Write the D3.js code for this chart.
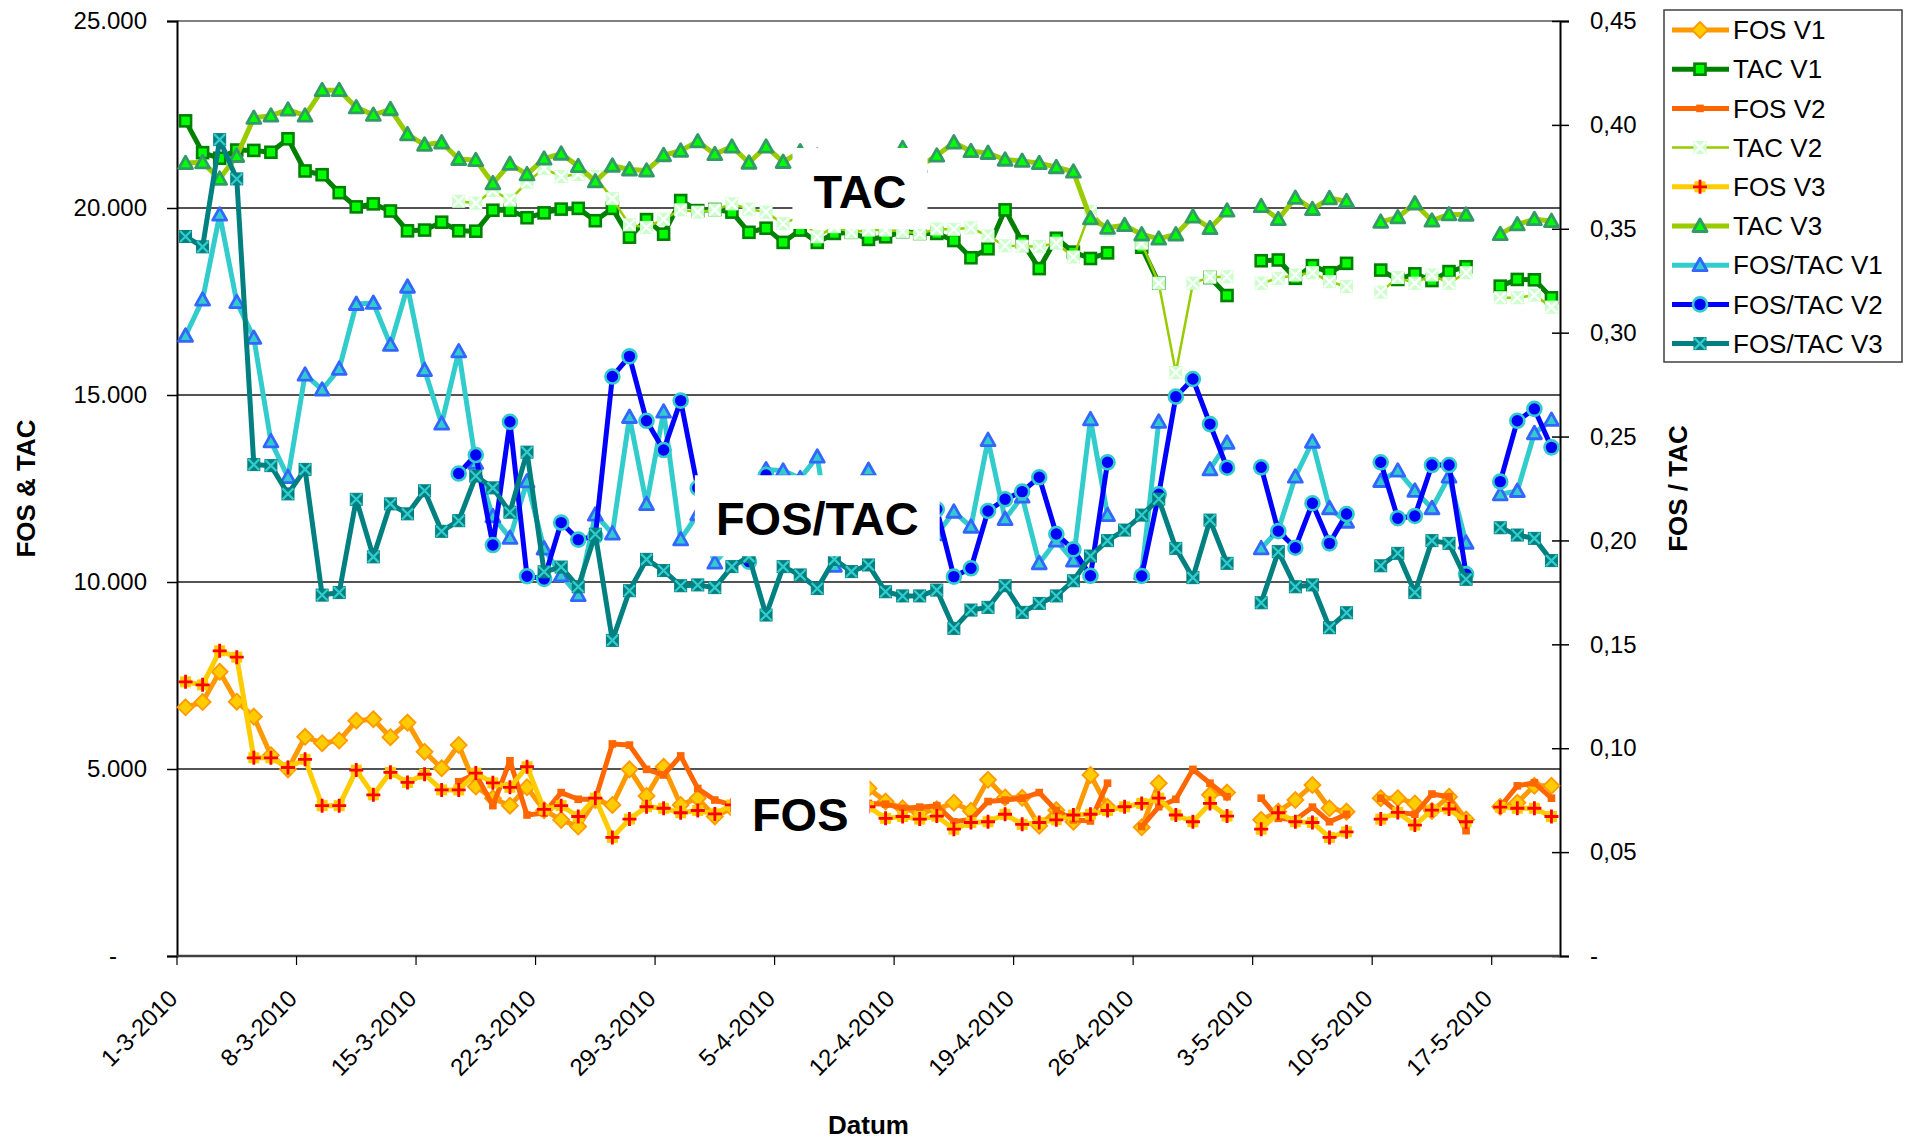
<!DOCTYPE html>
<html>
<head>
<meta charset="utf-8">
<script src="https://cdn.jsdelivr.net/npm/d3@7"></script>
<style>
  body { margin: 0; background: #fff; }
  text { font-family: "Liberation Sans", Arial, sans-serif; }
</style>
</head>
<body>
<svg id="chart" width="1910" height="1140"></svg>
<script>
// one category per day, 1-3-2010 .. 20-5-2010
const dates = d3.timeDay.range(new Date(2010, 2, 1), new Date(2010, 4, 21));

const fosV1 = [
  6650, 6790, 7600, 6800, 6400, 5370, 4990, 5860, 5690, 5760,
  6290, 6330, 5850, 6240, 5460, 5020, 5640, 4530, 4220, 4020,
  4510, 3900, 3640, 3460, 4170, 4040, 4990, 4280, 5060, 4040,
  4220, 3730, 3950, 4100, 4560, 4460, 4460, 4590, 3630, 4150,
  4480, 4130, 3950, 3830, 3920, 4100, 3880, 4710, 4240, 4230,
  3480, 3900, 3590, 4840, 3990, null, 3440, 4620, null, null,
  4310, 4370, null, 3640, 3860, 4170, 4570, 3950, 3860, null,
  4220, 4220, 4080, 3880, 4260, 3650, null, 3990, 4100, 4550, 4550
];
const tacV1 = [
  22330, 21480, 21330, 21550, 21540, 21490, 21850, 20990, 20890, 20410,
  20030, 20110, 19920, 19390, 19410, 19620, 19390, 19380, 19940, 19940,
  19740, 19870, 19970, 19990, 19660, 19990, 19220, 19690, 19300, 20200,
  19930, 19960, 19890, 19350, 19460, 19080, 19410, 19080, 19320, 19350,
  19160, 19230, 19370, 19320, 19320, 19130, 18670, 18910, 19950, 19100,
  18380, 19190, 18820, 18650, 18800, null, 18950, 17990, null, null,
  18140, 17660, null, 18590, 18610, 18120, 18460, 18270, 18520, null,
  18340, 18090, 18240, 18060, 18300, 18430, null, 17910, 18090, 18080, 17600
];
const fosV2 = [
  null, null, null, null, null, null, null, null, null, null,
  null, null, null, null, null, null, 4660, 4870, 4020, 5220,
  3770, 3820, 4370, 4190, 4190, 5670, 5640, 4990, 4840, 5350,
  4480, 4170, 4040, 3790, 4600, 4300, 4150, 4000, 4100, 4050,
  4080, 4060, 3950, 3980, 4020, 3590, 3650, 4130, 4170, 4220,
  4370, 3890, 3640, 3610, 4620, null, 3460, 3990, 4190, 4990,
  4620, 4260, null, 4220, 3680, 3640, 3980, 3590, 3790, null,
  4220, 3840, 3790, 4330, 4260, 3350, null, 3990, 4550, 4630, 4220
];
const tacV2 = [
  null, null, null, null, null, null, null, null, null, null,
  null, null, null, null, null, null, 20180, 20130, 20470, 20210,
  20690, 21060, 20840, 20900, 20840, 20250, 19550, 19480, 19700, 19950,
  19890, 19950, 20110, 19970, 19890, 19580, 19770, 19230, 19500, 19350,
  19410, 19410, 19370, 19320, 19440, 19430, 19470, 19250, 18990, 18980,
  18970, 19060, 18690, 19910, 19410, null, 19060, 17990, 15600, 17990,
  18150, 18160, null, 17990, 18120, 18210, 18270, 18030, 17900, null,
  17750, 18140, 17990, 18210, 17990, 18270, null, 17600, 17600, 17670, 17350
];
const fosV3 = [
  7330, 7250, 8160, 7990, 5300, 5300, 5040, 5260, 4020, 4020,
  4970, 4310, 4910, 4640, 4860, 4440, 4440, 4890, 4630, 4510,
  5060, 3920, 4020, 3730, 4220, 3170, 3660, 3990, 3950, 3830,
  3890, 3800, 4040, 4080, 3550, 3980, 3950, 3790, 4120, 3940,
  3990, 3680, 3730, 3660, 3740, 3390, 3570, 3590, 3790, 3520,
  3570, 3640, 3770, 3790, 3890, 3990, 4080, 4220, 3770, 3590,
  4080, 3740, null, 3390, 3830, 3590, 3570, 3170, 3320, null,
  3660, 3840, 3500, 3900, 3930, 3590, null, 3980, 3950, 3950, 3730
];
const tacV3 = [
  21200, 21220, 20780, 21390, 22410, 22470, 22630, 22470, 23150, 23150,
  22690, 22490, 22640, 21970, 21690, 21750, 21310, 21280, 20660, 21180,
  20900, 21320, 21450, 21120, 20710, 21130, 21030, 21000, 21410, 21530,
  21780, 21440, 21640, 21210, 21640, 21230, 21510, 21400, 21300, 21300,
  21200, 20990, 21600, 21120, 21400, 21750, 21520, 21470, 21290, 21260,
  21200, 21090, 20970, 19720, 19470, 19540, 19290, 19180, 19290, 19770,
  19460, 19930, null, 20050, 19700, 20270, 19970, 20260, 20180, null,
  19630, 19750, 20120, 19660, 19830, 19820, null, 19300, 19560, 19700, 19650
];
const fosTacV1 = [
  0.2985, 0.3159, 0.3568, 0.3147, 0.2975, 0.2477, 0.2305, 0.2798, 0.2726, 0.2826,
  0.3138, 0.3143, 0.2941, 0.3221, 0.2820, 0.2562, 0.2910, 0.2373, 0.2116, 0.2012,
  0.2284, 0.1961, 0.1832, 0.1737, 0.2124, 0.2033, 0.2594, 0.2175, 0.2620, 0.2005,
  0.2126, 0.1893, 0.1986, 0.2119, 0.2342, 0.2336, 0.2299, 0.2403, 0.1878, 0.2145,
  0.2339, 0.2148, 0.2039, 0.1982, 0.2029, 0.2138, 0.2066, 0.2483, 0.2103, 0.2211,
  0.1890, 0.1999, 0.1903, 0.2583, 0.2122, null, 0.1842, 0.2571, null, null,
  0.2342, 0.2470, null, 0.1962, 0.2050, 0.2307, 0.2475, 0.2155, 0.2090, null,
  0.2286, 0.2336, 0.2239, 0.2155, 0.2307, 0.1989, null, 0.2222, 0.2238, 0.2516, 0.2580
];
const fosTacV2 = [
  null, null, null, null, null, null, null, null, null, null,
  null, null, null, null, null, null, 0.2322, 0.2411, 0.1978, 0.2571,
  0.1828, 0.1815, 0.2086, 0.2004, 0.2021, 0.2789, 0.2886, 0.2576, 0.2435, 0.2673,
  0.2252, 0.2090, 0.2009, 0.1898, 0.2315, 0.2196, 0.2099, 0.2080, 0.2103, 0.2093,
  0.2102, 0.2092, 0.2039, 0.2060, 0.2150, 0.1826, 0.1866, 0.2142, 0.2198, 0.2235,
  0.2304, 0.2031, 0.1957, 0.1830, 0.2376, null, 0.1829, 0.2222, 0.2692, 0.2777,
  0.2560, 0.2350, null, 0.2352, 0.2045, 0.1965, 0.2179, 0.1986, 0.2127, null,
  0.2376, 0.2107, 0.2118, 0.2363, 0.2363, 0.1838, null, 0.2283, 0.2576, 0.2633, 0.2448
];
const fosTacV3 = [
  0.3463, 0.3413, 0.3929, 0.3740, 0.2365, 0.2360, 0.2224, 0.2342, 0.1737, 0.1749,
  0.2198, 0.1921, 0.2176, 0.2128, 0.2239, 0.2044, 0.2095, 0.2310, 0.2253, 0.2136,
  0.2425, 0.1849, 0.1872, 0.1777, 0.2030, 0.1519, 0.1758, 0.1909, 0.1855, 0.1782,
  0.1786, 0.1773, 0.1874, 0.1922, 0.1641, 0.1874, 0.1834, 0.1769, 0.1909, 0.1850,
  0.1882, 0.1753, 0.1733, 0.1733, 0.1761, 0.1577, 0.1665, 0.1678, 0.1782, 0.1654,
  0.1697, 0.1733, 0.1806, 0.1925, 0.1999, 0.2050, 0.2122, 0.2199, 0.1962, 0.1821,
  0.2098, 0.1890, null, 0.1700, 0.1946, 0.1777, 0.1786, 0.1580, 0.1652, null,
  0.1878, 0.1938, 0.1749, 0.1999, 0.1986, 0.1813, null, 0.2061, 0.2026, 0.2010, 0.1903
];

const leftTicks = [0, 5000, 10000, 15000, 20000, 25000];
const rightTicks = [0, 0.05, 0.10, 0.15, 0.20, 0.25, 0.30, 0.35, 0.40, 0.45];
const gridValues = [5000, 10000, 15000, 20000];

const series = [
  { name: 'FOS V1', values: fosV1, axis: 'L', color: '#FF9900', width: 5, marker: 'diamond', fill: '#FFCC00', mstroke: '#FF9900' },
  { name: 'TAC V1', values: tacV1, axis: 'L', color: '#008000', width: 5, marker: 'square', fill: '#00FF00', mstroke: '#008000' },
  { name: 'FOS V2', values: fosV2, axis: 'L', color: '#FF6600', width: 5, marker: 'dot', fill: '#FF6600', mstroke: '#FF6600' },
  { name: 'TAC V2', values: tacV2, axis: 'L', color: '#99CC00', width: 2.5, marker: 'xsquare', fill: '#CCFFCC', mstroke: '#FFFFFF' },
  { name: 'FOS V3', values: fosV3, axis: 'L', color: '#FFCC00', width: 5, marker: 'plus', fill: '#FFCC00', mstroke: '#FF0000' },
  { name: 'TAC V3', values: tacV3, axis: 'L', color: '#99CC00', width: 5, marker: 'triangle', fill: '#00FF00', mstroke: '#339966' },
  { name: 'FOS/TAC V1', values: fosTacV1, axis: 'R', color: '#33CCCC', width: 5, marker: 'triangle', fill: '#33CCCC', mstroke: '#3366FF' },
  { name: 'FOS/TAC V2', values: fosTacV2, axis: 'R', color: '#0000FF', width: 5, marker: 'circle', fill: '#0000FF', mstroke: '#33CCCC' },
  { name: 'FOS/TAC V3', values: fosTacV3, axis: 'R', color: '#008080', width: 5, marker: 'xsquare', fill: '#008080', mstroke: '#33CCCC' }
];

const plotLeft = 177, plotRight = 1560, plotTop = 21, plotBottom = 956;

const svg = d3.select('#chart');

const x = d3.scaleBand()
  .domain(d3.range(dates.length))
  .range([plotLeft, plotRight])
  .padding(0);
const xc = i => x(i) + x.bandwidth() / 2;

const yL = d3.scaleLinear().domain([0, 25000]).range([plotBottom, plotTop]);
const yR = d3.scaleLinear().domain([0, 0.45]).range([plotBottom, plotTop]);

// gridlines
svg.append('g')
  .selectAll('line')
  .data(gridValues)
  .join('line')
  .attr('x1', plotLeft).attr('x2', plotRight)
  .attr('y1', d => yL(d)).attr('y2', d => yL(d))
  .attr('stroke', '#1a1a1a')
  .attr('stroke-width', 1.3);

// plot frame
svg.append('line').attr('x1', plotLeft).attr('x2', plotRight).attr('y1', plotTop).attr('y2', plotTop)
  .attr('stroke', '#808080').attr('stroke-width', 2);

// left axis
const leftAxis = svg.append('g')
  .attr('transform', `translate(${plotLeft},0)`)
  .call(d3.axisLeft(yL).tickValues(leftTicks).tickSize(10).tickPadding(20)
    .tickFormat(d => d === 0 ? '-' : d3.format(',')(d).replace(/,/g, '.')));
leftAxis.select('.domain').attr('stroke', '#000').attr('stroke-width', 2);
leftAxis.selectAll('.tick line').attr('stroke', '#000').attr('stroke-width', 1.5);
leftAxis.selectAll('.tick text')
  .attr('font-size', 24).attr('fill', '#000')
  .attr('font-family', '"Liberation Sans", Arial, sans-serif')
  .attr('dx', d => d === 0 ? -30 : 0);

// right axis (ticks cross the axis line)
const rightAxis = svg.append('g')
  .attr('transform', `translate(${plotRight},0)`)
  .call(d3.axisRight(yR).tickValues(rightTicks).tickSize(9).tickPadding(21)
    .tickFormat(d => d === 0 ? '-' : d3.format('.2f')(d).replace('.', ',')));
rightAxis.select('.domain').attr('stroke', '#000').attr('stroke-width', 2);
rightAxis.selectAll('.tick line').attr('x1', -8).attr('stroke', '#000').attr('stroke-width', 1.5);
rightAxis.selectAll('.tick text')
  .attr('font-size', 24).attr('fill', '#000')
  .attr('font-family', '"Liberation Sans", Arial, sans-serif');

// x axis
const weekly = d3.range(0, dates.length, 7);
svg.append('line').attr('x1', plotLeft).attr('x2', plotRight).attr('y1', plotBottom).attr('y2', plotBottom)
  .attr('stroke', '#404040').attr('stroke-width', 2.5);
svg.append('g')
  .selectAll('line')
  .data(weekly)
  .join('line')
  .attr('x1', d => x(d)).attr('x2', d => x(d))
  .attr('y1', plotBottom).attr('y2', plotBottom + 9)
  .attr('stroke', '#000').attr('stroke-width', 1.2);
const fmtDate = d3.timeFormat('%-d-%-m-%Y');
svg.append('g')
  .selectAll('text')
  .data(weekly)
  .join('text')
  .attr('transform', d => `translate(${x(d) + 2},${plotBottom + 44}) rotate(-45)`)
  .attr('text-anchor', 'end')
  .attr('font-size', 24)
  .text(d => fmtDate(dates[d]));

// axis titles
svg.append('text')
  .attr('transform', `translate(35,${(plotTop + plotBottom) / 2}) rotate(-90)`)
  .attr('text-anchor', 'middle').attr('font-size', 26).attr('font-weight', 'bold')
  .text('FOS & TAC');
svg.append('text')
  .attr('transform', `translate(1687,${(plotTop + plotBottom) / 2}) rotate(-90)`)
  .attr('text-anchor', 'middle').attr('font-size', 26).attr('font-weight', 'bold')
  .text('FOS / TAC');
svg.append('text')
  .attr('x', (plotLeft + plotRight) / 2).attr('y', 1134)
  .attr('text-anchor', 'middle').attr('font-size', 26).attr('font-weight', 'bold')
  .text('Datum');

// markers
function drawMarker(g, s) {
  switch (s.marker) {
    case 'diamond':
      g.append('path').attr('d', 'M0,-8L8,0L0,8L-8,0Z')
        .attr('fill', s.fill).attr('stroke', s.mstroke).attr('stroke-width', 1.8);
      break;
    case 'square':
      g.append('rect').attr('x', -5.5).attr('y', -5.5).attr('width', 11).attr('height', 11)
        .attr('fill', s.fill).attr('stroke', s.mstroke).attr('stroke-width', 2.6);
      break;
    case 'dot':
      g.append('rect').attr('x', -3.8).attr('y', -3.8).attr('width', 7.6).attr('height', 7.6)
        .attr('fill', s.fill);
      break;
    case 'xsquare':
      g.append('rect').attr('x', -6).attr('y', -6).attr('width', 12).attr('height', 12)
        .attr('fill', s.fill).attr('stroke', s.fill).attr('stroke-width', 1);
      g.append('path').attr('d', 'M-5.5,-5.5L5.5,5.5M-5.5,5.5L5.5,-5.5')
        .attr('stroke', s.mstroke).attr('stroke-width', 2.2);
      break;
    case 'plus':
      g.append('rect').attr('x', -5.5).attr('y', -5.5).attr('width', 11).attr('height', 11)
        .attr('fill', s.fill);
      g.append('path').attr('d', 'M-7,0H7M0,-7V7')
        .attr('stroke', s.mstroke).attr('stroke-width', 2.8);
      break;
    case 'triangle':
      g.append('path').attr('d', 'M0,-7L7,5.5L-7,5.5Z')
        .attr('fill', s.fill).attr('stroke', s.mstroke).attr('stroke-width', 2.8)
        .attr('stroke-linejoin', 'round');
      break;
    case 'circle':
      g.append('circle').attr('r', 7)
        .attr('fill', s.fill).attr('stroke', s.mstroke).attr('stroke-width', 2.6);
      break;
  }
}

const plot = svg.append('g');
series.forEach(s => {
  const y = s.axis === 'L' ? yL : yR;
  const line = d3.line()
    .defined(d => d != null)
    .x((d, i) => xc(i))
    .y(d => y(d));
  const g = plot.append('g');
  g.append('path')
    .datum(s.values)
    .attr('d', line)
    .attr('fill', 'none')
    .attr('stroke', s.color)
    .attr('stroke-width', s.width)
    .attr('stroke-linejoin', 'round');
  const pts = s.values.map((v, i) => ({ v, i })).filter(p => p.v != null);
  g.selectAll('g.m')
    .data(pts)
    .join('g')
    .attr('class', 'm')
    .attr('transform', p => `translate(${xc(p.i)},${y(p.v)})`)
    .each(function () { drawMarker(d3.select(this), s); });
});

// text labels with white boxes
const labels = [
  { text: 'TAC', x: x(40), y: yL(20000) },
  { text: 'FOS/TAC', x: xc(37), y: yL(11250) },
  { text: 'FOS', x: xc(36), y: yL(3350) }
];
labels.forEach(l => {
  const g = svg.append('g');
  const rect = g.append('rect').attr('fill', '#fff');
  const t = g.append('text')
    .attr('x', l.x).attr('y', l.y)
    .attr('text-anchor', 'middle')
    .attr('font-size', 47).attr('font-weight', 'bold')
    .text(l.text);
  const b = t.node().getBBox();
  rect.attr('x', b.x - 21).attr('y', b.y - 17)
    .attr('width', b.width + 42).attr('height', b.height + 28);
});

// legend
const lg = svg.append('g').attr('transform', 'translate(1664,10)');
lg.append('rect').attr('width', 238).attr('height', 352)
  .attr('fill', '#fff').attr('stroke', '#404040').attr('stroke-width', 1.5);
series.forEach((s, i) => {
  const row = lg.append('g').attr('transform', `translate(0,${20 + i * 39.2})`);
  row.append('line').attr('x1', 8).attr('x2', 65).attr('y1', 0).attr('y2', 0)
    .attr('stroke', s.color).attr('stroke-width', s.width);
  drawMarker(row.append('g').attr('transform', 'translate(36,0)'), s);
  row.append('text').attr('x', 69).attr('y', 0).attr('dy', '0.35em')
    .attr('font-size', 26).text(s.name);
});
</script>
</body>
</html>
